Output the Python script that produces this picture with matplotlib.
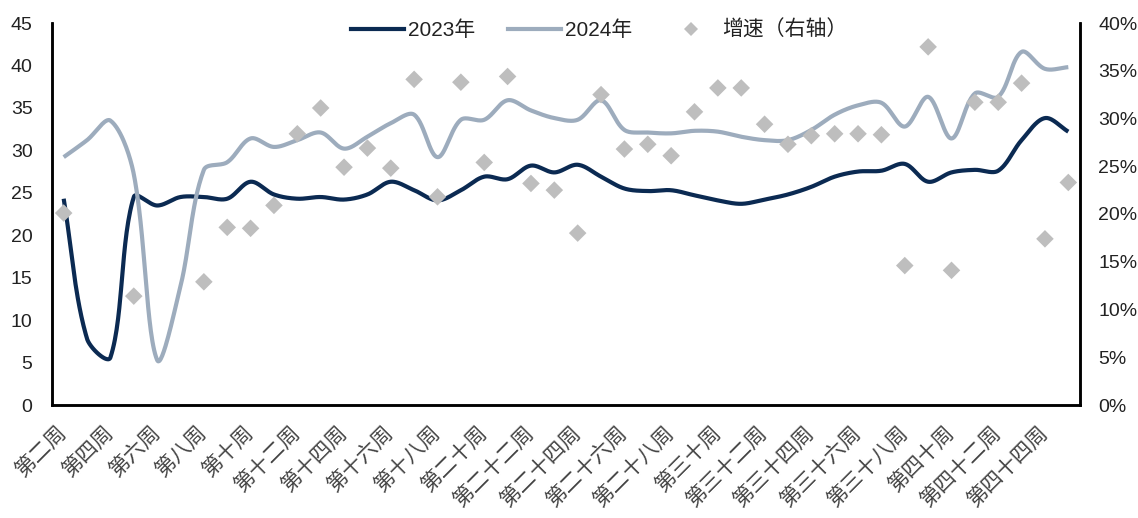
import numpy as np
import matplotlib
matplotlib.use("Agg")
import matplotlib.pyplot as plt
from matplotlib.lines import Line2D
from matplotlib.ticker import FuncFormatter, MultipleLocator

plt.rcParams['font.family'] = ['Liberation Sans', 'Noto Sans CJK SC', 'DejaVu Sans']

weeks = ["第二周", "第三周", "第四周", "第五周", "第六周", "第七周", "第八周", "第九周",
         "第十周", "第十一周", "第十二周", "第十三周", "第十四周", "第十五周", "第十六周",
         "第十七周", "第十八周", "第十九周", "第二十周", "第二十一周", "第二十二周",
         "第二十三周", "第二十四周", "第二十五周", "第二十六周", "第二十七周", "第二十八周",
         "第二十九周", "第三十周", "第三十一周", "第三十二周", "第三十三周", "第三十四周",
         "第三十五周", "第三十六周", "第三十七周", "第三十八周", "第三十九周", "第四十周",
         "第四十一周", "第四十二周", "第四十三周", "第四十四周", "第四十五周"]

y2023 = [24.3, 7.8, 5.6, 24.5, 23.5, 24.5, 24.5, 24.3, 26.3, 24.8, 24.3, 24.5, 24.2, 24.8,
         26.3, 25.3, 24.1, 25.3, 26.9, 26.6, 28.2, 27.4, 28.3, 26.9, 25.5, 25.2, 25.3, 24.7,
         24.1, 23.7, 24.2, 24.8, 25.7, 26.9, 27.5, 27.6, 28.4, 26.3, 27.4, 27.7, 27.6, 31.2,
         33.8, 32.2]

y2024 = [29.2, 31.2, 33.5, 27.2, 5.3, 14.0, 27.7, 28.6, 31.4, 30.4, 31.2, 32.1, 30.2, 31.6,
         33.2, 34.2, 29.2, 33.6, 33.6, 35.9, 34.7, 33.8, 33.6, 35.9, 32.4, 32.1, 32.0, 32.3,
         32.2, 31.6, 31.2, 31.2, 32.4, 34.2, 35.3, 35.6, 32.8, 36.3, 31.4, 36.7, 36.3, 41.6,
         39.6, 39.8]

growth = [20.1, None, None, 11.4, None, None, 12.9, 18.6, 18.5, 20.9, 28.4, 31.1, 24.9, 26.9,
          24.8, 34.1, 21.8, 33.8, 25.4, 34.4, 23.2, 22.5, 18.0, 32.5, 26.8, 27.3, 26.1, 30.7,
          33.2, 33.2, 29.4, 27.3, 28.2, 28.4, 28.4, 28.3, 14.6, 37.5, 14.1, 31.7, 31.7, 33.7,
          17.4, 23.3]

c2023 = "#0B2A52"
c2024 = "#9DACBD"
cgr = "#BEBEBE"


def smooth(y, sx=23.4, sy=8.49, n=30):
    """Excel-like smoothed line: cubic Bezier with chord-length-weighted tangents."""
    y = np.asarray(y, float)
    x = np.arange(len(y), dtype=float)
    P = np.column_stack([x * sx, y * sy])
    m = len(P)
    cout = np.zeros_like(P)
    cin = np.zeros_like(P)
    for i in range(m):
        prev = P[i - 1] if i > 0 else P[i]
        nxt = P[i + 1] if i < m - 1 else P[i]
        d = nxt - prev
        l1 = np.hypot(*(P[i] - prev))
        l2 = np.hypot(*(nxt - P[i]))
        tot = l1 + l2 if (l1 + l2) > 0 else 1.0
        cout[i] = P[i] + d * (l2 / tot) / 3.0
        cin[i] = P[i] - d * (l1 / tot) / 3.0
    t = np.linspace(0, 1, n, endpoint=False)[:, None]
    out = []
    for i in range(m - 1):
        p1, c1, c2, p2 = P[i], cout[i], cin[i + 1], P[i + 1]
        seg = ((1 - t) ** 3) * p1 + 3 * ((1 - t) ** 2) * t * c1 + 3 * (1 - t) * t ** 2 * c2 + t ** 3 * p2
        out.append(seg)
    out.append(P[-1][None, :])
    out = np.vstack(out)
    return out[:, 0] / sx, out[:, 1] / sy


fig = plt.figure(figsize=(11.38, 5.18), dpi=100)
ax = fig.add_axes([52 / 1138, 1 - 405 / 518, (1080 - 52) / 1138, (405 - 23) / 518])
ax2 = ax.twinx()

xs, ys = smooth(y2023)
ax.plot(xs, ys, color=c2023, lw=3, solid_capstyle='butt')
xs, ys = smooth(y2024)
ax.plot(xs, ys, color=c2024, lw=3, solid_capstyle='butt')

idx = np.arange(len(weeks))
g = np.array([np.nan if v is None else v for v in growth], float)
ax2.scatter(idx, g, marker='D', s=80, color=cgr, edgecolors='none', zorder=3)

ax.set_xlim(-0.5, len(weeks) - 0.5)
ax.set_ylim(0, 45)
ax2.set_ylim(0, 40)
ax.yaxis.set_major_locator(MultipleLocator(5))
ax2.yaxis.set_major_locator(MultipleLocator(5))
ax2.yaxis.set_major_formatter(FuncFormatter(lambda v, p: f"{v:.0f}%"))

ax.set_xticks(idx[::2])
ax.set_xticklabels(weeks[::2], rotation=45, ha='right', va='center', rotation_mode='anchor',
                   fontsize=15, family=['Noto Sans CJK SC'], color='#444444')

for a in (ax, ax2):
    for s in a.spines.values():
        s.set_linewidth(1.8)
        s.set_color('black')
    a.spines['top'].set_visible(False)
    a.tick_params(length=0, labelsize=14, colors='#222222')
ax.tick_params(axis='y', pad=14)
ax2.tick_params(axis='y', pad=13)
ax.tick_params(axis='x', pad=18, labelsize=15, colors='#444444')

handles = [Line2D([], [], color=c2023, lw=3),
           Line2D([], [], color=c2024, lw=3),
           Line2D([], [], color=cgr, marker='D', ls='none', markersize=7, markeredgewidth=0)]
leg = ax.legend(handles, ["2023年", "2024年", "增速（右轴）"], loc='center',
                bbox_to_anchor=(0.532, 0.982), ncol=3, frameon=False, fontsize=15,
                handlelength=2.55, columnspacing=1.55, handletextpad=0.2)
for txt in leg.get_texts():
    txt.set_color('#222222')

fig.savefig("out.png", dpi=100)
